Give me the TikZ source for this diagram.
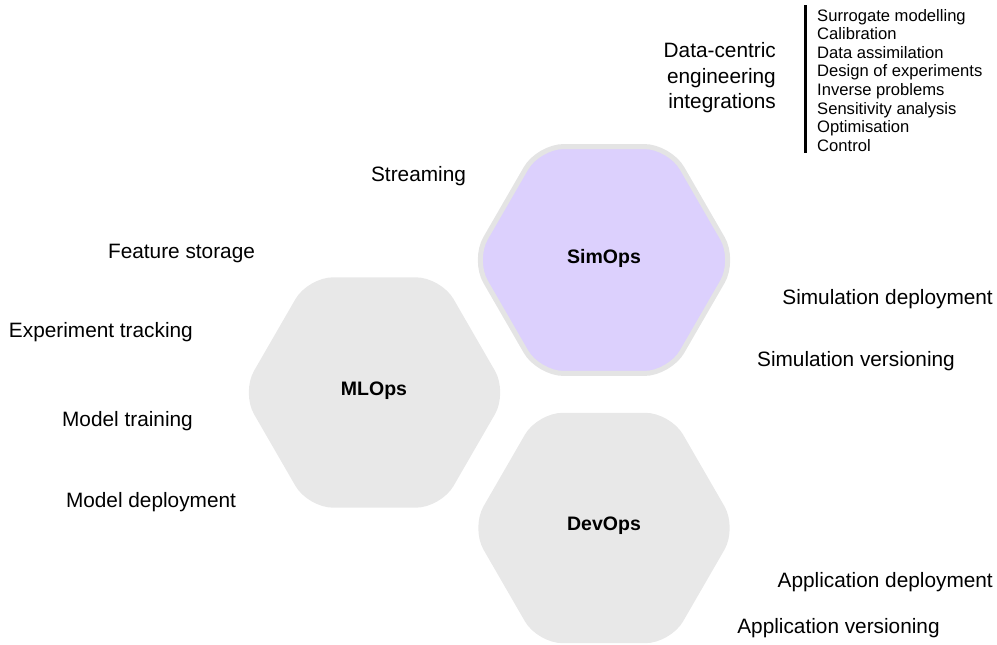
\documentclass[tikz,border=0pt]{standalone}
\usepackage{fontspec}
\setmainfont{Liberation Sans}
\definecolor{hexgray}{HTML}{E8E8E8}
\definecolor{hexpurple}{HTML}{DCD0FD}
\definecolor{hexborder}{HTML}{E4E4E4}
\newcommand{\drawhexagon}[4]{%
  \path[#1, rounded corners=25pt]
    ({#2},{#3-0.866*#4}) -- ({#2+0.5*#4},{#3-0.866*#4}) -- ({#2+#4},{#3})
    -- ({#2+0.5*#4},{#3+0.866*#4}) -- ({#2-0.5*#4},{#3+0.866*#4})
    -- ({#2-#4},{#3}) -- ({#2-0.5*#4},{#3-0.866*#4}) -- cycle;}
\begin{document}
\begin{tikzpicture}[x=1pt,y=-1pt,
  lbl/.style={font=\fontsize{20.8}{24}\selectfont, inner sep=0pt},
  hexlbl/.style={font=\fontsize{19.5}{22}\selectfont\bfseries, inner sep=0pt, anchor=base},
  item/.style={font=\fontsize{16.6}{18.6}\selectfont, inner sep=0pt, anchor=base west}]
\useasboundingbox (0,0) rectangle (997,645);
% hexagons
\drawhexagon{fill=hexgray}{374.5}{392.5}{133}
\drawhexagon{fill=hexgray}{604}{528}{133}
\drawhexagon{fill=hexpurple, draw=hexborder, line width=5pt}{604}{260}{131}
\node[hexlbl] (simops) at (604,263) {SimOps};
\node[hexlbl] (mlops) at (374,395) {MLOps};
\node[hexlbl] (devops) at (604,530) {DevOps};
% left labels
\node[lbl, anchor=base] (streaming) at (418.5,181) {Streaming};
\node[lbl, anchor=base] (feature) at (181.5,258) {Feature storage};
\node[lbl, anchor=base east] (exptrack) at (193,337) {Experiment tracking};
\node[lbl, anchor=base east] (modeltrain) at (193,426) {Model training};
\node[lbl, anchor=base] (modeldeploy) at (151,507) {Model deployment};
% right labels
\node[lbl, anchor=base east] (simdeploy) at (993,304) {Simulation deployment};
\node[lbl, anchor=base] (simversion) at (856,366) {Simulation versioning};
\node[lbl, anchor=base east] (appdeploy) at (993,587) {Application deployment};
\node[lbl, anchor=base] (appversion) at (838.5,633) {Application versioning};
% data-centric block
\node[lbl, anchor=base east] (dce1) at (776,57) {Data-centric};
\node[lbl, anchor=base east] (dce2) at (776,83) {engineering};
\node[lbl, anchor=base east] (dce3) at (776,108) {integrations};
\coordinate (bartop) at (805,5);
\coordinate (barbot) at (805,153);
\draw[line width=3pt, black] (bartop) -- (barbot);
\node[item] (i1) at (817,21) {Surrogate modelling};
\node[item] (i2) at (817,39.6) {Calibration};
\node[item] (i3) at (817,58.2) {Data assimilation};
\node[item] (i4) at (817,76.8) {Design of experiments};
\node[item] (i5) at (817,95.4) {Inverse problems};
\node[item] (i6) at (817,114) {Sensitivity analysis};
\node[item] (i7) at (817,132.6) {Optimisation};
\node[item] (i8) at (817,151.2) {Control};
\end{tikzpicture}
\end{document}
